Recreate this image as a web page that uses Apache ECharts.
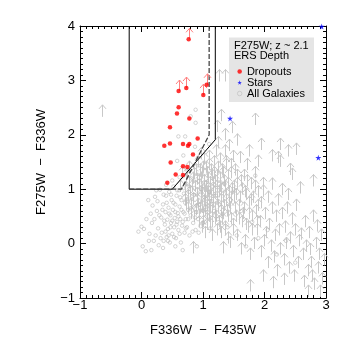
<!DOCTYPE html>
<html><head><meta charset="utf-8">
<script src="https://cdn.jsdelivr.net/npm/echarts@6/dist/echarts.min.js"></script>
<style>html,body{margin:0;padding:0;background:#fff}#c{width:350px;height:350px}</style>
</head><body><div id="c"></div>
<script>
const xRange = [-1, 3];
const yRange = [-1, 4];
const xTitle = 'F336W  \u2212  F435W';
const yTitle = 'F275W  \u2212  F336W';
const legendTitle = 'F275W; z ~ 2.1';
const legendSubtitle = 'ERS Depth';
const seriesNames = ['Dropouts', 'Stars', 'All Galaxies'];

// Dropout candidates (red)
const dropouts = [
  [0.767,3.755],[0.604,2.805],[0.729,2.86],[1.06,2.92],[1.005,2.73],
  [0.604,2.505],[0.577,2.39],[0.778,2.30],[0.463,2.14],[0.913,1.93],
  [0.371,1.80],[0.463,1.84],[0.675,1.83],[0.756,1.80],[0.778,1.83],
  [0.837,1.64],[0.474,1.49],[0.675,1.42],[0.745,1.41],[0.556,1.27],
  [0.675,1.26],[0.42,1.12]
];
// Dropouts that are lower limits (red arrows)
const dropoutLimits = [
  [0.767,3.755],[0.604,2.805],[0.729,2.86],[1.06,2.92],[1.005,2.73]
];
// Stars (blue)
const stars = [[1.44,2.30],[2.875,1.58],[2.93,3.99]];

// All galaxies with detections (gray open circles)
const galaxies = [
  [-0.05,0.22],[0.00,0.31],[0.04,0.27],[0.02,-0.05],[0.07,-0.14],[0.11,0.80],[0.08,0.45],[0.13,0.18],
  [0.17,0.38],[0.20,0.05],[0.22,0.86],[0.25,0.60],[0.27,0.28],[0.15,0.55],[0.28,-0.03],[0.24,0.98],
  [0.30,0.99],[0.32,0.48],[0.33,0.20],[0.35,0.72],[0.36,0.05],[0.38,0.35],[0.39,0.58],[0.40,0.88],
  [0.41,0.12],[0.42,0.44],[0.43,0.27],[0.44,0.66],[0.45,0.95],[0.46,0.02],[0.47,0.52],[0.48,0.38],
  [0.49,0.80],[0.50,0.18],[0.51,0.62],[0.52,1.05],[0.53,0.30],[0.54,0.47],[0.55,0.72],[0.56,0.10],
  [0.57,0.88],[0.58,0.40],[0.59,0.56],[0.60,0.25],[0.61,0.98],[0.62,0.68],[0.63,0.45],[0.64,0.02],
  [0.65,0.80],[0.66,0.33],[0.67,-0.12],[0.68,0.58],[0.69,0.92],[0.70,0.20],[0.36,0.90],[0.44,0.15],
  [0.71,0.75],[0.72,0.45],[0.73,1.10],[0.74,0.30],[0.76,0.62],[0.77,0.95],[0.78,0.15],[0.80,0.52],
  [0.81,1.20],[0.82,0.82],[0.84,0.38],[0.85,0.68],[0.86,1.02],[0.88,0.25],[0.89,0.58],[0.90,0.90],
  [0.92,0.45],[0.93,1.15],[0.95,0.72],[0.96,0.32],[0.98,1.00],[1.00,0.60],[1.02,0.85],[1.03,0.40],
  [1.05,1.12],[1.07,0.70],[1.09,0.50],[1.10,0.95],[1.12,0.28],[1.14,0.78],[1.16,1.05],[1.18,0.60],
  [1.21,0.88],[1.24,0.45],[1.27,0.72],
  [0.60,1.97],[0.71,1.97],[0.88,2.46],[0.88,2.22],[0.80,2.34],[0.87,1.78],[0.68,1.62],[0.58,1.52],
  [0.75,1.34],[0.92,1.58],[0.50,1.16],[0.40,1.08],[0.62,1.22],
  [1.32,0.55],[1.40,0.30],[1.45,0.80],[1.55,0.15],[1.62,0.60],[1.70,-0.05],[1.80,0.40],[1.90,0.10],
  [2.05,0.25],[2.20,-0.20],[2.35,0.05],[2.50,-0.35],[1.35,1.10],[1.50,1.00],[1.10,1.83],[1.85,1.25],
  [0.18,0.70],[0.21,0.45],[0.23,0.15],[0.26,0.78],[0.29,0.52],[0.31,0.10],[0.34,0.62],[0.37,0.42],
  [0.39,0.22],[0.41,0.75],[0.43,0.05],[0.45,0.55],[0.47,0.30],[0.48,0.90],[0.50,0.42],[0.52,0.75],
  [0.53,0.12],[0.55,0.58],[0.57,0.35],[0.58,0.98],[0.60,0.50],[0.62,0.18],[0.63,0.85],[0.65,0.62],
  [0.67,0.40],[0.68,1.02],[0.70,0.55],[0.72,0.28],[0.74,0.82],[0.76,0.45],[0.78,1.05],[0.80,0.65],
  [0.83,0.22],[0.85,0.90],[0.87,0.48],[0.90,0.70],[0.93,0.20],[0.96,0.95],[1.00,0.38],[1.05,0.62],
  [0.12,0.05],[0.16,-0.12],[0.35,-0.08],[0.55,-0.05],[0.90,-0.05]
];

// Galaxies undetected in F275W: lower limits (gray arrows)
const galaxyLimits = [
  [0.62,0.95],[0.66,1.20],[0.70,0.70],[0.72,1.05],[0.75,0.55],[0.77,1.30],[0.79,0.85],[0.81,0.62],
  [0.83,1.10],[0.85,0.40],[0.87,0.95],[0.89,1.25],[0.83,-0.18],
  [0.91,0.70],[0.92,1.40],[0.93,0.30],[0.94,1.05],[0.95,0.55],[0.96,1.55],[0.97,0.85],[0.98,0.20],
  [0.99,1.20],[1.00,0.45],[1.01,0.95],[1.02,1.45],[1.03,0.65],[1.04,0.10],[1.05,1.30],[1.06,0.80],
  [1.07,0.35],[1.08,1.10],[1.09,0.60],[1.10,1.50],[1.11,0.25],[1.12,0.90],[1.13,1.25],[1.14,0.50],
  [1.15,0.05],[1.16,1.00],[1.17,0.70],[1.18,1.40],[1.19,0.35],[1.20,0.85],[1.21,1.60],[1.22,0.15],
  [1.23,1.15],[1.24,0.55],[1.25,1.75],[1.26,0.30],[1.27,0.95],[1.28,1.45],[1.29,0.10],[1.30,0.70],
  [1.31,1.25],[1.32,-0.18],[1.33,0.45],[1.34,1.05],[1.35,1.60],[1.36,0.20],[1.37,0.80],[1.38,1.35],
  [1.39,0.50],[1.40,1.00],[1.41,0.00],[1.42,1.70],[1.43,0.65],[1.44,-0.08],[1.45,1.20],[1.46,0.35],
  [1.47,0.90],[1.48,1.50],[1.49,0.15],
  [1.51,0.75],[1.52,1.25],[1.53,0.40],[1.55,1.00],[1.56,0.05],[1.58,0.60],[1.60,1.48],[1.61,-0.20],
  [1.63,0.90],[1.64,0.30],[1.66,1.15],[1.67,0.55],[1.69,-0.05],[1.70,0.80],[1.72,1.35],[1.73,0.20],
  [1.74,1.60],[1.75,0.65],[1.77,-0.30],[1.78,1.00],[1.80,0.40],[1.82,0.75],[1.83,-0.10],[1.85,1.20],
  [1.86,0.50],[1.88,0.15],[1.90,1.41],[1.89,0.85],
  [1.92,0.30],[1.94,-0.25],[1.95,0.65],[1.97,1.00],[1.98,0.86],[1.99,-0.05],[2.01,0.45],[2.03,0.10],
  [2.05,-0.45],[2.06,0.75],[2.08,0.25],[2.10,-0.15],[2.12,0.99],[2.13,0.55],[2.15,-0.35],[2.17,0.05],
  [2.19,0.40],[2.21,-0.60],[2.22,0.70],[2.24,0.15],[2.26,-0.20],[2.28,0.89],[2.29,0.45],
  [2.31,-0.40],[2.33,0.20],[2.35,-0.10],[2.37,0.55],[2.39,0.80],[2.40,-0.55],[2.42,0.00],[2.44,0.35],
  [2.46,-0.25],[2.48,-0.70],[2.50,0.15],[2.52,0.60],[2.54,-0.45],[2.56,-0.05],[2.58,0.92],[2.60,0.07],
  [2.62,-0.30],[2.64,-0.80],[2.66,0.30],[2.68,-0.15],
  [2.70,-0.60],[2.72,0.10],[2.74,-0.21],[2.76,-0.45],[2.77,-0.70],[2.79,0.40],[2.81,-0.85],[2.83,-0.10],
  [2.85,0.22],[2.87,-0.55],[2.89,-0.30],[2.90,-0.98],[2.92,0.05],[2.94,-0.75],[2.96,-0.40],[2.70,-0.98],
  [1.76,-0.88],[1.98,-0.70],[2.14,-0.82],[2.31,-0.76],
  [-0.65,2.33],[1.265,2.98],[1.36,2.98],[1.47,2.03],[1.85,2.18],[1.95,1.72],[2.25,1.72],[2.39,1.60],
  [2.52,1.63],[2.12,1.51],[2.25,1.41],[2.41,1.26],[2.44,1.17],[2.79,1.05],[2.22,1.48],[1.30,2.25],
  [1.22,2.05],[1.35,1.90],[1.55,1.80],
  [0.71,0.90],[0.73,0.62],[0.74,1.18],[0.76,0.78],[0.78,1.02],[0.80,0.45],[0.82,0.95],[0.84,0.72],
  [0.86,1.18],[0.88,0.52],[0.90,0.82],[0.90,1.08],[0.92,0.62],[0.93,0.98],[0.94,0.42],[0.95,1.25],
  [0.96,0.75],[0.97,1.10],[0.98,0.58],[0.99,0.88],[1.00,1.30],[1.00,0.30],[1.01,0.68],[1.02,1.05],
  [1.03,0.85],[1.04,0.50],[1.05,0.95],[1.06,1.20],[1.06,0.25],[1.07,0.60],[1.08,0.85],[1.09,1.35],
  [1.10,0.40],[1.10,0.72],[1.11,1.02],[1.12,0.55],[1.13,0.78],[1.14,1.15],[1.15,0.30],[1.16,0.65],
  [1.17,0.92],[1.18,1.20],[1.19,0.55],[1.20,1.05],[1.21,0.40],[1.22,0.75],[1.23,0.95],[1.24,1.30],
  [1.25,0.60],[1.26,0.85],[1.27,0.20],[1.28,1.10],[1.29,0.50],[1.30,0.90],[1.31,0.35],[1.32,0.75],
  [1.33,1.20],[1.34,0.60],[1.35,0.15],[1.36,0.95],[1.37,1.40],[1.38,0.70],[1.40,0.40],[1.41,1.15],
  [1.42,0.85],[1.44,0.55],[1.45,1.35],[1.46,0.75],[1.48,0.25],[1.50,0.95],[1.52,0.55],[1.54,0.80],
  [1.56,1.15],[1.58,0.35],[1.60,0.75],[1.62,1.05],[1.65,0.45],[1.68,0.85],[1.70,0.25],[1.72,1.05],
  [1.75,0.45],[1.78,0.70],[1.80,0.15],[1.84,0.95],[1.87,0.30],[1.90,0.60]
];

// Selection windows
const selectionSolid = [[-0.2,4],[-0.2,1.0],[0.5,1.0],[1.2,1.91],[1.2,4]];
const selectionDashed = [[-0.2,1.0],[0.65,1.0],[1.1,2.0],[1.1,4]];

const FONT = 'Liberation Sans';

function arrowSeries(name, data, color, len, hw, hh, z) {
  return {
    type: 'custom', name: name, data: data, z: z, silent: true,
    xAxisIndex: 0, yAxisIndex: 0,
    renderItem: function (params, api) {
      const p = api.coord([api.value(0), api.value(1)]);
      const x = Math.round(p[0]) + 0.5, y = p[1];
      return {
        type: 'group',
        children: [
          { type: 'line', shape: { x1: x, y1: y, x2: x, y2: y - len },
            style: { stroke: color, lineWidth: 1 } },
          { type: 'polyline', shape: { points: [[x - hw, y - len + hh], [x, y - len], [x + hw, y - len + hh]] },
            style: { stroke: color, fill: null, lineWidth: 1 } }
        ]
      };
    }
  };
}

const minus = v => String(v).replace('-', '\u2212');
const axisCommon = {
  axisLine: { show: true, onZero: false, lineStyle: { color: '#000', width: 1 } },
  axisTick: { show: true, inside: true, length: 6, lineStyle: { color: '#000' } },
  minorTick: { show: true, splitNumber: 10, length: 3, lineStyle: { color: '#000' } },
  splitLine: { show: false },
  minorSplitLine: { show: false }
};

const chart = echarts.init(document.getElementById('c'), null, { renderer: 'canvas' });
chart.setOption({
  animation: false,
  backgroundColor: '#fff',
  grid: { left: 80, right: 24, top: 26, bottom: 52 },
  xAxis: [
    Object.assign({}, axisCommon, {
      type: 'value', min: xRange[0], max: xRange[1], interval: 1, position: 'bottom',
      axisLabel: { margin: 1, fontSize: 13, fontFamily: FONT, color: '#000', formatter: minus },
      name: xTitle, nameLocation: 'middle', nameGap: 26,
      nameTextStyle: { fontSize: 13, fontFamily: FONT, color: '#000' }
    }),
    Object.assign({}, axisCommon, {
      type: 'value', min: xRange[0], max: xRange[1], interval: 1, position: 'top',
      axisLabel: { show: false }
    })
  ],
  yAxis: [
    Object.assign({}, axisCommon, {
      type: 'value', min: yRange[0], max: yRange[1], interval: 1, position: 'left',
      axisLabel: { margin: 5, fontSize: 13, fontFamily: FONT, color: '#000', formatter: minus },
      name: yTitle, nameLocation: 'middle', nameGap: 32, nameRotate: 90,
      nameTextStyle: { fontSize: 13, fontFamily: FONT, color: '#000' }
    }),
    Object.assign({}, axisCommon, {
      type: 'value', min: yRange[0], max: yRange[1], interval: 1, position: 'right',
      axisLabel: { show: false }
    })
  ],
  legend: {
    data: [
      { name: seriesNames[0], icon: 'circle', itemStyle: { borderWidth: 0 } },
      { name: seriesNames[1], itemStyle: { borderWidth: 0 } },
      { name: seriesNames[2], icon: 'circle',
        itemStyle: { color: 'rgba(0,0,0,0)', borderColor: '#bdbdbd', borderWidth: 0.8 } }
    ],
    orient: 'vertical', left: 237, top: 66, z: 10, padding: 0,
    itemWidth: 4.5, itemHeight: 4.5, itemGap: 0, selectedMode: false,
    textStyle: { fontSize: 11, fontFamily: FONT, color: '#000', lineHeight: 10.4 }
  },
  graphic: [
    { type: 'rect', z: 5, shape: { x: 229, y: 37.5, width: 85, height: 64.5 },
      style: { fill: '#e5e5e5' } },
    { type: 'text', z: 11, left: 234, top: 40,
      style: { text: legendTitle + '\n' + legendSubtitle, fontSize: 11, fontFamily: FONT,
               fill: '#000', lineHeight: 10 } }
  ],
  series: [
    { type: 'scatter', name: seriesNames[2], data: galaxies, z: 2, symbol: 'circle', symbolSize: 3.5,
      itemStyle: { color: 'rgba(0,0,0,0)', borderColor: '#bcbcbc', borderWidth: 0.8 } },
    arrowSeries('galaxyLimits', galaxyLimits, '#c8c8c8', 12, 3.5, 4, 2),
    { type: 'line', data: selectionSolid, z: 3, symbol: 'none', silent: true,
      lineStyle: { color: '#000', width: 1 } },
    { type: 'line', data: selectionDashed, z: 3, symbol: 'none', silent: true,
      lineStyle: { color: '#444', width: 1.3, type: [5, 2] } },
    arrowSeries('dropoutLimits', dropoutLimits, '#ff8080', 11, 3.5, 4, 4),
    { type: 'scatter', name: seriesNames[0], data: dropouts, z: 4, symbol: 'circle', symbolSize: 4.5,
      itemStyle: { color: '#ff0000' } },
    { type: 'scatter', name: seriesNames[1], data: stars, z: 4, clip: false,
      symbol: 'path://M50,0 L61,35 L98,35 L68,57 L79,91 L50,70 L21,91 L32,57 L2,35 L39,35 Z',
      symbolSize: 6, itemStyle: { color: '#0000ff' } }
  ]
});
</script></body></html>
